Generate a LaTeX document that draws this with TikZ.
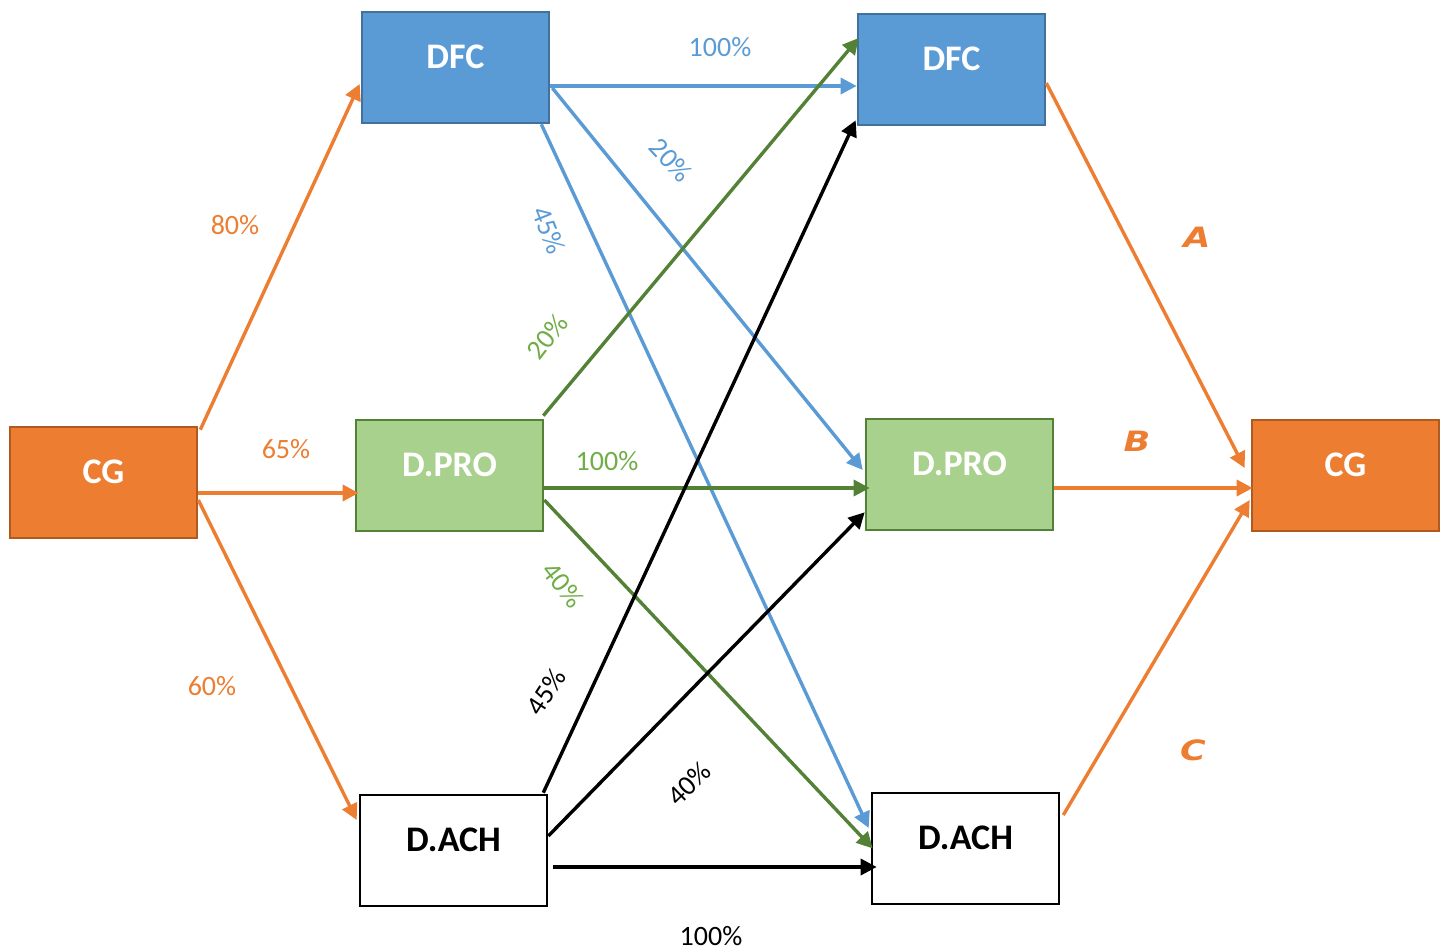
\documentclass[tikz,border=0pt]{standalone}
\usepackage{fontspec}
\setmainfont{Carlito}
\newfontfamily\letterfont{DejaVu Sans}
\usetikzlibrary{arrows.meta,calc}

\definecolor{orangeF}{HTML}{ED7D31}
\definecolor{orangeD}{HTML}{AE5A21}
\definecolor{blueF}{HTML}{5B9BD5}
\definecolor{blueD}{HTML}{41719C}
\definecolor{greenF}{HTML}{A9D18E}
\definecolor{greenD}{HTML}{538135}
\definecolor{greenT}{HTML}{70AD47}

\begin{document}
\begin{tikzpicture}[x=0.5pt,y=-0.5pt,
  box/.style={draw, line width=1.3pt, minimum width=93.5pt, minimum height=55.5pt, inner sep=0pt},
  boxtxt/.style={font=\fontsize{18}{20}\selectfont\bfseries, yshift=5.5pt},
  cgbox/.style={box, fill=orangeF, draw=orangeD, label={[boxtxt, text=white]center:CG}},
  dfcbox/.style={box, fill=blueF, draw=blueD, label={[boxtxt, text=white]center:DFC}},
  probox/.style={box, fill=greenF, draw=greenD, label={[boxtxt, text=white]center:D.PRO}},
  achbox/.style={box, fill=white, draw=black, label={[boxtxt, text=black]center:D.ACH}},
  flow/.style={line width=1.7pt, -{Triangle[length=8pt,width=8pt]}},
  lab/.style={font=\fontsize{14}{16}\selectfont, inner sep=0pt},
  letter/.style={font=\letterfont\fontsize{14}{16}\selectfont\bfseries\itshape, text=orangeF, xscale=1.25, inner sep=0pt}
]
\useasboundingbox (0,0) rectangle (1447,952);

% boxes
\node[cgbox]  (cgL)   at (103.5,482.5) {};
\node[dfcbox] (dfcL)  at (455.5,67.5) {};
\node[probox] (proL)  at (449.5,475.5) {};
\node[achbox] (achL)  at (453.5,850.5) {};
\node[dfcbox] (dfcR)  at (951.5,69.5) {};
\node[probox] (proR)  at (959.5,474.5) {};
\node[achbox] (achR)  at (965.5,848.5) {};
\node[cgbox]  (cgR)   at (1345.5,475.5) {};

% CG to the three left boxes
\draw[flow, orangeF] ($(cgL.north east)+(2,4)$) -- ($(dfcL.west)+(-1,16.5)$);
\draw[flow, orangeF] ($(cgL.east)+(0,10.5)$) -- ($(proL.west)+(4,17.5)$);
\draw[flow, orangeF] ($(cgL.east)+(0,17.5)$) -- ($(achL.west)+(-2,-30.5)$);

% DFC flows
\draw[flow, blueF] ($(dfcL.east)+(0,18.5)$) -- ($(dfcR.west)+(0,16.5)$);
\draw[flow, blueF] ($(dfcL.east)+(2,20.5)$) -- ($(proR.west)+(-2,-4.5)$);
\draw[flow, blueF] ($(dfcL.south east)+(-9,0)$) -- ($(achR.west)+(-2,-20.5)$);

% D.PRO flows
\draw[flow, greenD] ($(proL.north east)+(-1,-3)$) -- ($(dfcR.west)+(2,-31.5)$);
\draw[flow, greenD] ($(proL.east)+(0,12.5)$) -- ($(proR.west)+(5,13.5)$);
\draw[flow, greenD] ($(proL.east)+(0,24.5)$) -- ($(achR.west)+(2,0)$);

% D.ACH flows
\draw[flow, black] ($(achL.north east)+(-5,-1)$) -- ($(dfcR.south west)+(-1,-6)$);
\draw[flow, black] ($(achL.east)+(0,-14.5)$) -- ($(proR.south west)+(0,-19)$);
\draw[flow, black] ($(achL.east)+(5,16.5)$) -- ($(achR.west)+(6,18.5)$);

% into the right CG
\draw[flow, orangeF] ($(dfcR.east)+(0,13.5)$) -- ($(cgR.west)+(-6,-7.5)$);
\draw[flow, orangeF] ($(proR.east)+(0,13.5)$) -- ($(cgR.west)+(2,12.5)$);
\draw[flow, orangeF] ($(achR.east)+(3,-33.5)$) -- ($(cgR.west)+(-1,24.5)$);

% percentages
\node[lab, text=orangeF] (p80) at (235,225) {80\%};
\node[lab, text=orangeF] (p65) at (286,449) {65\%};
\node[lab, text=orangeF] (p60) at (212,686) {60\%};

\node[lab, text=blueF] (b100) at (720,47) {100\%};
\node[lab, text=blueF, rotate=-47] (b20) at (671,160) {20\%};
\node[lab, text=blueF, rotate=-68] (b45) at (549,230) {45\%};

\node[lab, text=greenT, rotate=52] (g20) at (547,337) {20\%};
\node[lab, text=greenT] (g100) at (607,461) {100\%};
\node[lab, text=greenT, rotate=-52] (g40) at (563,585) {40\%};

\node[lab, rotate=57] (k45) at (546,692) {45\%};
\node[lab, rotate=44] (k40) at (689,784) {40\%};
\node[lab] (k100) at (711,936) {100\%};

% letters on the right
\node[letter] (la) at (1197,237) {A};
\node[letter] (lb) at (1137,441) {B};
\node[letter] (lc) at (1193,750) {C};
\end{tikzpicture}
\end{document}
